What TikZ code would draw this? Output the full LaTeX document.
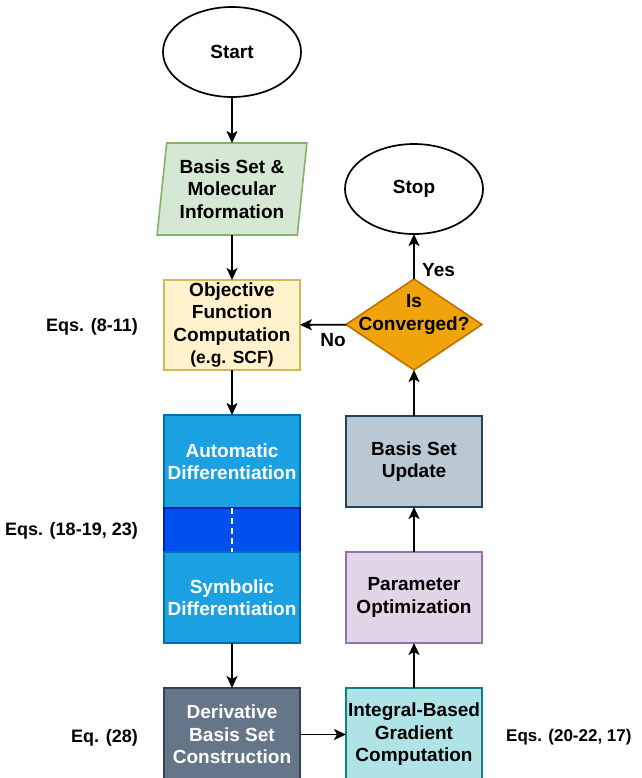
\documentclass[tikz,border=0pt]{standalone}
\usepackage{fontspec}
\setmainfont{Liberation Sans}
\usepackage{tikz}
\usetikzlibrary{arrows.meta,positioning,shapes.geometric}
\definecolor{stepGreen}{HTML}{D5E8D4}
\definecolor{stepGreenD}{HTML}{82B366}
\definecolor{stepYellow}{HTML}{FFF2CC}
\definecolor{stepYellowD}{HTML}{D6B656}
\definecolor{stepBlue}{HTML}{1BA1E2}
\definecolor{stepBlueD}{HTML}{006EAF}
\definecolor{stepCobalt}{HTML}{0050EF}
\definecolor{stepCobaltD}{HTML}{001DBC}
\definecolor{stepSlate}{HTML}{647687}
\definecolor{stepSlateD}{HTML}{314354}
\definecolor{stepTeal}{HTML}{B0E3E6}
\definecolor{stepTealD}{HTML}{0E8088}
\definecolor{stepPurple}{HTML}{E1D5E7}
\definecolor{stepPurpleD}{HTML}{9673A6}
\definecolor{stepGrey}{HTML}{BAC8D3}
\definecolor{stepGreyD}{HTML}{23445D}
\definecolor{stepOrange}{HTML}{F0A30A}
\definecolor{stepOrangeD}{HTML}{BD7000}

\begin{document}
\begin{tikzpicture}[
  x=1pt, y=1pt,
  node distance=45pt and 46pt,
  every node/.style={font=\fontsize{19}{22.5}\selectfont\bfseries},
  terminal/.style={ellipse, draw, line width=1.7pt, minimum width=138pt, minimum height=90pt, inner sep=0pt, outer sep=0pt},
  inout/.style={trapezium, trapezium left angle=82.6, trapezium right angle=97.4, trapezium stretches=true, draw, line width=1.6pt, minimum width=150pt, minimum height=92pt, inner sep=0pt, outer sep=0pt, align=center},
  procbox/.style={rectangle, draw, line width=1.6pt, minimum width=136pt, minimum height=91pt, inner sep=0pt, outer sep=0pt, align=center},
  decision/.style={diamond, draw, line width=1.6pt, minimum width=136pt, minimum height=91pt, inner sep=0pt, outer sep=0pt},
  eqlbl/.style={font=\fontsize{18}{21}\selectfont\bfseries, inner sep=0pt},
  lbl/.style={inner sep=0pt},
  arr/.style={-{Stealth[length=12pt,width=11pt,inset=3pt]}, line width=1.9pt}
]
\useasboundingbox (0,0) rectangle (641,-778);

% Left column
\node[terminal] (start) at (232,-52) {Start};
\node[inout, below=46pt of start, draw=stepGreenD, fill=stepGreen] (info) {Basis Set \&\\Molecular\\Information};
\node[procbox, below=of info, draw=stepYellowD, fill=stepYellow, minimum height=90pt] (obj) {Objective\\Function\\Computation\\{\fontsize{17.5}{21}\selectfont(e.g. SCF)}};
\node[procbox, below=of obj, draw=stepBlueD, fill=stepBlue, text=white, minimum height=93pt] (autod) {Automatic\\Differentiation};
\node[procbox, below=0pt of autod, draw=stepCobaltD, fill=stepCobalt, minimum height=44pt] (band) {};
\node[procbox, below=0pt of band, draw=stepBlueD, fill=stepBlue, text=white] (symd) {Symbolic\\Differentiation};
\node[procbox, below=of symd, draw=stepSlateD, fill=stepSlate, text=white, minimum height=93pt] (deriv) {Derivative\\Basis Set\\Construction};
\draw[white, line width=1.6pt, dash pattern=on 6pt off 4pt] (band.north) -- (band.south);
\draw[arr] (start) -- (info);
\draw[arr] (info) -- (obj);
\draw[arr] (obj) -- (autod);
\draw[arr] (symd) -- (deriv);

% Right column
\node[procbox, right=of deriv, draw=stepTealD, fill=stepTeal, minimum height=93pt] (grad) {Integral-Based\\Gradient\\Computation};
\node[procbox, above=of grad, draw=stepPurpleD, fill=stepPurple] (param) {Parameter\\Optimization};
\node[procbox, above=of param, draw=stepGreyD, fill=stepGrey] (update) {Basis Set\\Update};
\node[decision, above=46pt of update, draw=stepOrangeD, fill=stepOrange] (conv) {};
\node[lbl, align=center] (convtxt) at ([yshift=10pt]conv.center) {Is\\Converged?};
\node[terminal, above=of conv] (stop) {Stop};
\draw[arr] (deriv) -- (grad);
\draw[arr] (grad) -- (param);
\draw[arr] (param) -- (update);
\draw[arr] (update) -- (conv);
\draw[arr] (conv) -- (stop);
\draw[arr] (conv) -- (obj);
\node[lbl, anchor=west] (yes) at ([xshift=8pt,yshift=9pt]conv.north) {Yes};
\node[lbl] (no) at ([xshift=-13pt,yshift=-16pt]conv.west) {No};

% Equation references
\node[eqlbl, anchor=east] (eqobj) at ([xshift=-26pt,yshift=-2pt]obj.west) {Eqs. (8-11)};
\node[eqlbl, anchor=east] (eqdiff) at ([xshift=-26pt,yshift=-1pt]band.west) {Eqs. (18-19, 23)};
\node[eqlbl, anchor=east] (eqderiv) at ([xshift=-26pt,yshift=-3pt]deriv.west) {Eq. (28)};
\node[eqlbl, anchor=west, font=\fontsize{17}{20}\selectfont\bfseries] (eqgrad) at ([xshift=24pt,yshift=-3pt]grad.east) {Eqs. (20-22, 17)};
\end{tikzpicture}
\end{document}
